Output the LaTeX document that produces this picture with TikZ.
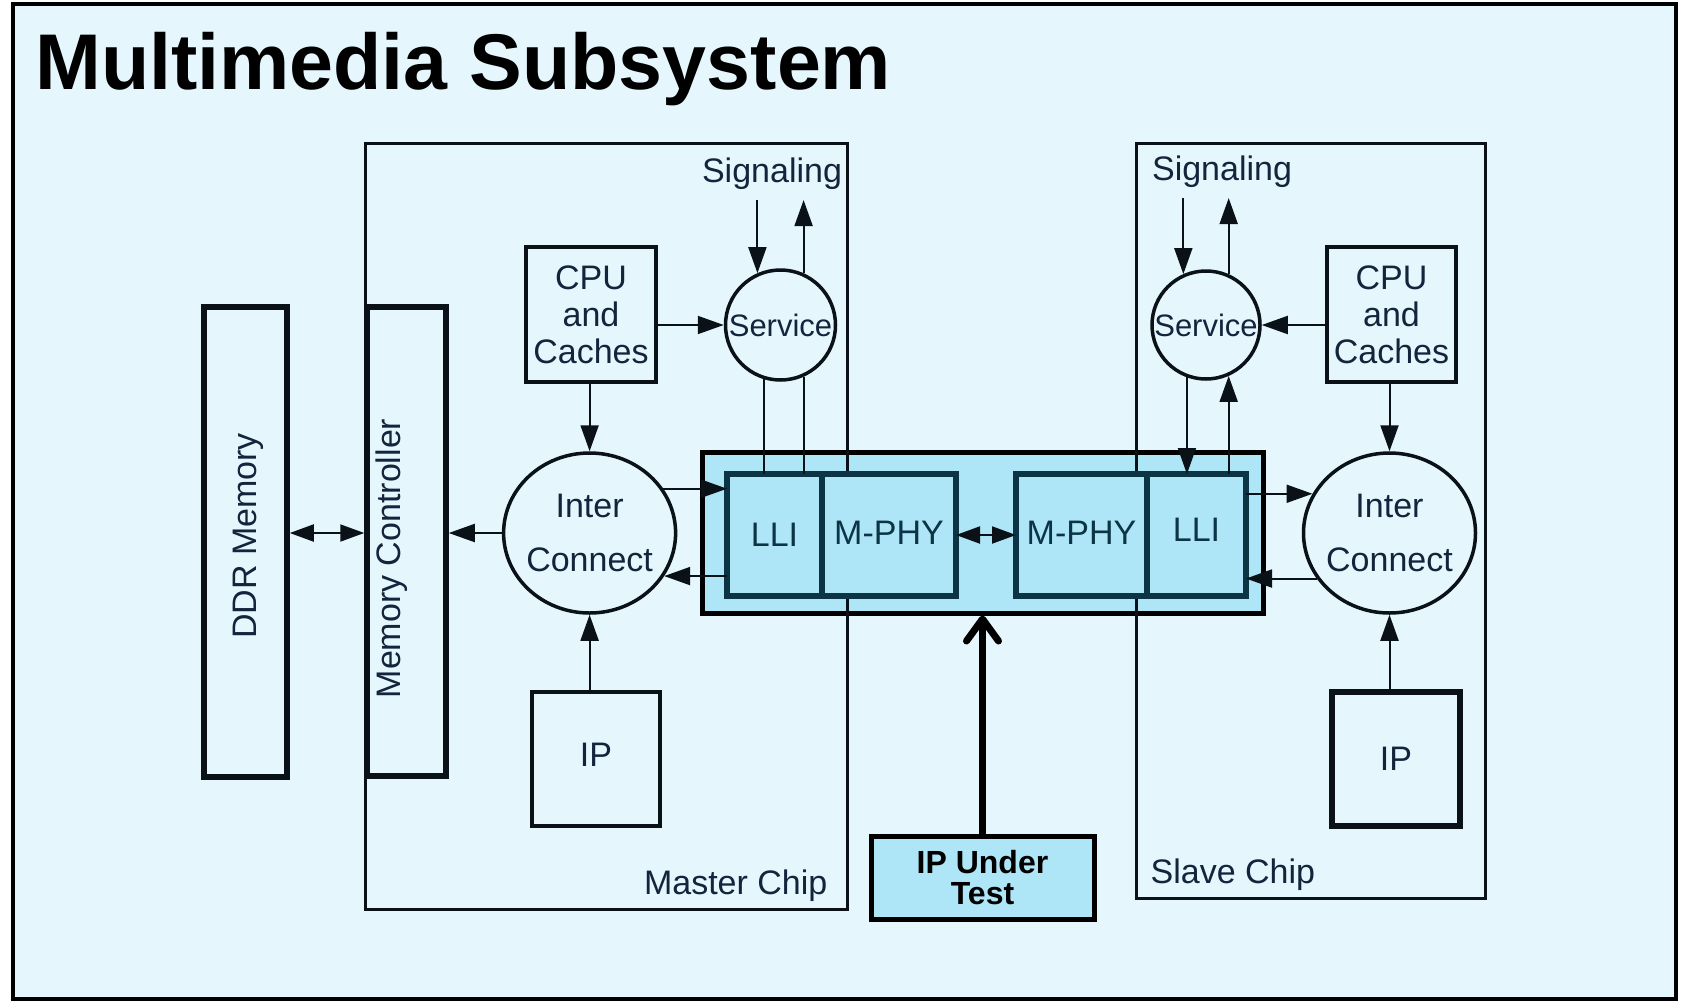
\documentclass[tikz,border=0pt]{standalone}
\usepackage{fontspec}
\setmainfont{Liberation Sans}
\usetikzlibrary{arrows.meta,positioning,shapes.geometric}
\definecolor{MmBack}{HTML}{E5F6FD}
\definecolor{MmHigh}{HTML}{AEE5F7}
\definecolor{MmInk}{HTML}{0A1218}
\definecolor{MmNavy}{HTML}{13243C}
\definecolor{MmTeal}{HTML}{0B3544}
\newcommand{\lblfont}{\fontsize{34}{37}\selectfont}
\newcommand{\ringfont}{\fontsize{34}{54}\selectfont}

\begin{document}
\begin{tikzpicture}[
  x=1pt,y=-1pt,
  lbl/.style={text=MmNavy,font=\lblfont,inner sep=0pt,align=center},
  box/.style={lbl,draw=MmInk,line width=3.5pt},
  heavy/.style={box,line width=5.5pt},
  chip/.style={draw=MmInk,line width=3pt,inner sep=0pt},
  ring/.style={lbl,circle,draw=MmInk,line width=3.5pt,font=\fontsize{31}{36}\selectfont},
  oval/.style={lbl,ellipse,draw=MmInk,line width=3.5pt,font=\ringfont,inner xsep=-5pt,
    minimum width=172pt,minimum height=160pt},
  hl/.style={lbl,draw=MmTeal,line width=6pt,fill=MmHigh,outer sep=0pt,text=MmTeal,
    minimum height=122pt},
  arr/.style={-{Triangle[length=26pt,width=18pt]},line width=2pt,draw=MmInk},
  arr2/.style={{Triangle[length=24pt,width=17pt]}-{Triangle[length=24pt,width=17pt]},line width=2pt,draw=MmInk},
  wire/.style={line width=2pt,draw=MmInk},
  bigarr/.style={-{Straight Barb[length=22pt,width=32pt,round]},line width=7pt,draw=black}
]
\useasboundingbox (0,0) rectangle (1681,1002);
\node[draw=black,line width=4pt,fill=MmBack,minimum width=1663pt,minimum height=995pt] (frame) at (844.5,501.5) {};
\node[anchor=base west,inner sep=0pt,font=\bfseries\fontsize{79}{82}\selectfont] (title) at (35,89) {Multimedia Subsystem};

% band of the IP under test
\node[draw=black,line width=5pt,fill=MmHigh,minimum width=561pt,minimum height=161pt] (dut) at (982.5,532.5) {};

% chips
\node[chip,minimum width=482pt,minimum height=766pt] (mchip) at (606,526) {};
\node[chip,minimum width=349pt,minimum height=755pt] (schip) at (1310.5,520.5) {};
\node[lbl,anchor=base east] (mlbl) at ([xshift=-21pt,yshift=16pt]mchip.south east) {Master Chip};
\node[lbl,anchor=base west] (slbl) at ([xshift=16pt,yshift=16pt]schip.south west) {Slave Chip};

% memory side
\node[heavy,minimum width=83pt,minimum height=470pt] (ddr) at (245.5,542) {};
\node[lbl,rotate=90] (ddrtxt) at ([xshift=3pt,yshift=6pt]ddr.center) {DDR Memory};
\node[heavy,minimum width=79pt,minimum height=469pt] (mc) at (406.5,541.5) {};
\node[lbl,rotate=90] (mctxt) at ([xshift=-15pt,yshift=-17pt]mc.center) {Memory Controller};

% master chip
\node[box,minimum width=130pt,minimum height=135pt] (cpuM) at (591,314.5) {CPU\\and\\Caches};
\node[ring,minimum size=110pt] (svcM) at (780.5,325) {Service};
\node[lbl,inner ysep=10pt] (sigM) at (772,174) {Signaling};
\node[oval] (icM) at (589.6,533) {Inter\\Connect};
\node[box,minimum width=128pt,minimum height=134pt] (ipM) at (596,759) {\raisebox{8pt}{IP}};
\node[hl,minimum width=95pt] (lliM) at (774.5,535) {LLI};
\node[hl,minimum width=134pt,right=0pt of lliM] (phyM) {\raisebox{5pt}{M-PHY}};

% slave chip
\node[box,minimum width=129pt,minimum height=135pt] (cpuS) at (1391.5,314.5) {CPU\\and\\Caches};
\node[ring,minimum size=108pt] (svcS) at (1206,325) {Service};
\node[lbl,inner ysep=10pt] (sigS) at (1222,172) {Signaling};
\node[oval] (icS) at (1389.5,533) {Inter\\Connect};
\node[heavy,minimum width=128pt,minimum height=134pt] (ipS) at (1396,759) {IP};
\node[hl,minimum width=131pt] (phyS) at (1081.5,535) {\raisebox{5pt}{M-PHY}};
\node[hl,minimum width=99pt,right=0pt of phyS] (lliS) {\raisebox{10pt}{LLI}};

\node[draw=black,line width=5pt,fill=MmHigh,minimum width=223pt,minimum height=83pt,
  inner sep=0pt,align=center,font=\bfseries\fontsize{32}{31}\selectfont] (iput) at (982.5,877.5) {IP Under\\Test};

% master connectors
\draw[arr2] (ddr.east |- icM) -- (mc.west |- icM);
\draw[arr] (icM.west) -- (icM.west -| mc.east);
\draw[arr] (cpuM.south -| icM.north) -- (icM.north);
\draw[arr] (cpuM.east |- svcM) -- (svcM.west);
\draw[arr] (icM.south |- ipM.north) -- (icM.south);
\draw[arr] (svcM.114 |- sigM.south) -- (svcM.114);
\draw[arr] (svcM.66) -- (svcM.66 |- sigM.south);
\draw[wire] (svcM.-107) -- (svcM.-107 |- lliM.north);
\draw[wire] (svcM.-66) -- (svcM.-66 |- lliM.north);
\draw[arr] (icM.31) -- (icM.31 -| lliM.west);
\draw[arr] (lliM.west |- icM.-30) -- (icM.-30);
\draw[arr2] (phyM.east) -- (phyS.west);

% slave connectors
\draw[arr] (cpuS.west |- svcS) -- (svcS.east);
\draw[arr] (cpuS.south -| icS.north) -- (icS.north);
\draw[arr] (icS.south |- ipS.north) -- (icS.south);
\draw[arr] (svcS.114 |- sigS.south) -- (svcS.114);
\draw[arr] (svcS.66) -- (svcS.66 |- sigS.south);
\draw[arr] (svcS.-110) -- (svcS.-110 |- lliS.north);
\draw[arr] (svcS.-66 |- lliS.north) -- (svcS.-66);
\draw[arr] (lliS.east |- icS.153) -- (icS.153);
\draw[arr] (icS.-148) -- (icS.-148 -| lliS.east);

\draw[bigarr] (iput.north) -- (dut.south);
\end{tikzpicture}
\end{document}
